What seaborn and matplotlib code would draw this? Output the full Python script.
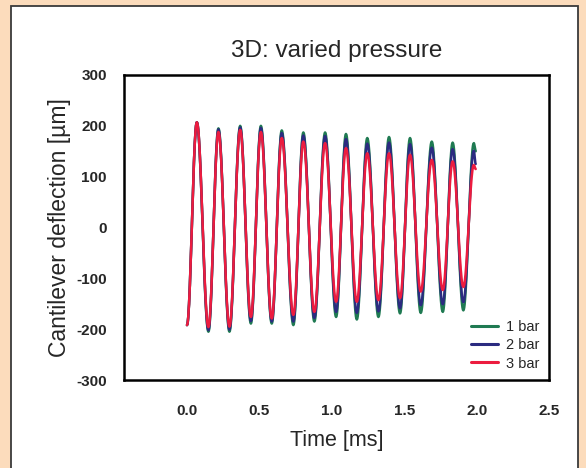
import numpy as np
import pandas as pd
import matplotlib
matplotlib.use("Agg")
import matplotlib.pyplot as plt
from matplotlib.patches import Rectangle
from matplotlib.lines import Line2D
import seaborn as sns

# ---- data (extrema of the oscillation) ----
# times [ms] of successive extrema: start, peak, trough, peak, ... , end
t_extrema = [0.000, 0.068, 0.148, 0.217, 0.293, 0.367, 0.441, 0.510, 0.585,
             0.654, 0.734, 0.803, 0.879, 0.953, 1.029, 1.097, 1.172, 1.244,
             1.321, 1.394, 1.470, 1.539, 1.613, 1.689, 1.765, 1.833, 1.907,
             1.979, 1.992]

# deflection [um] at those times
bar1 = [-192, 207, -205, 195, -205, 200, -189, 200, -189, 191, -192, 187, -185,
        187, -176, 184, -181, 176, -176, 178, -169, 176, -168, 169, -166, 167,
        -163, 166, 150]
bar2 = [-192, 207, -202, 193, -201, 197, -184, 196, -185, 186, -185, 181, -178,
        180, -166, 174, -168, 165, -165, 167, -159, 164, -153, 157, -151, 154,
        -147, 151, 125]
bar3 = [-192, 207, -196, 188, -195, 192, -176, 188, -179, 176, -172, 169, -166,
        166, -146, 156, -146, 146, -143, 146, -139, 143, -126, 133, -123, 130,
        -117, 123, 115]

series_names = ["1 bar", "2 bar", "3 bar"]
series_values = [bar1, bar2, bar3]
colors = {"1 bar": "#1f7a52", "2 bar": "#2b2b80", "3 bar": "#ec1c3f"}

x_ticks = [0.0, 0.5, 1.0, 1.5, 2.0, 2.5]
y_ticks = [300, 200, 100, 0, -100, -200, -300]


def smooth_line(t, v, n=24):
    """Smooth rendering (half-cosine shaped) of a line through extrema."""
    ts, vs = [], []
    for i in range(len(t) - 1):
        s = np.linspace(0, 1, n, endpoint=False)
        ts.append(t[i] + (t[i + 1] - t[i]) * s)
        vs.append(v[i] + (v[i + 1] - v[i]) * (1 - np.cos(np.pi * s)) / 2)
    ts.append([t[-1]])
    vs.append([v[-1]])
    return np.concatenate(ts), np.concatenate(vs)


frames = []
for name, vals in zip(series_names, series_values):
    tt, vv = smooth_line(t_extrema, vals)
    frames.append(pd.DataFrame({"Time": tt, "Deflection": vv, "Pressure": name}))
df = pd.concat(frames, ignore_index=True)

sns.set_theme(style="white")
plt.rcParams["font.family"] = ["Liberation Sans", "DejaVu Sans"]

fig = plt.figure(figsize=(5.86, 4.68), dpi=100)
fig.patch.set_facecolor("#fcdcbc")

# white inner panel
panel = Rectangle((10.5 / 586, -0.05), (578 - 10.5) / 586, 1.05 - 6.5 / 468,
                  transform=fig.transFigure, facecolor="white",
                  edgecolor="#3a3a3a", linewidth=1.3, zorder=-10)
fig.patches.append(panel)

ax = fig.add_axes([123.5 / 586, 1 - 380 / 468, (549.3 - 123.5) / 586, (380 - 75) / 468])
ax.set_facecolor("white")

sns.lineplot(data=df, x="Time", y="Deflection", hue="Pressure",
             palette=colors, hue_order=series_names, sort=False,
             estimator=None, linewidth=1.8, legend=False, ax=ax)

ax.set_xlim(-0.438, 2.5)
ax.set_ylim(-300, 300)
ax.set_xticks(x_ticks)
ax.set_xticklabels([f"{v:.1f}" for v in x_ticks], fontweight="bold", fontsize=11)
ax.set_yticks(y_ticks)
ax.set_yticklabels([str(v) for v in y_ticks], fontweight="bold", fontsize=11)
ax.tick_params(axis="both", direction="out", length=4, width=1,
               color="#888888")
ax.tick_params(axis="x", pad=13)
ax.tick_params(axis="y", pad=8)

for sp in ax.spines.values():
    sp.set_color("black")
    sp.set_linewidth(1.8)

ax.set_xlabel("Time [ms]", fontsize=15.5, labelpad=9)
ax.set_ylabel("Cantilever deflection [µm]", fontsize=16.5, labelpad=4)
ax.set_title("3D: varied pressure", fontsize=17.5, pad=13)

handles = [Line2D([0], [0], color=colors[n], lw=2.2) for n in series_names]
ax.legend(handles, series_names, loc="lower right", frameon=False,
          fontsize=10.5, handlelength=1.8, handletextpad=0.6,
          labelspacing=0.3, borderaxespad=0.25)

fig.savefig("out.png", dpi=100, facecolor=fig.get_facecolor())
